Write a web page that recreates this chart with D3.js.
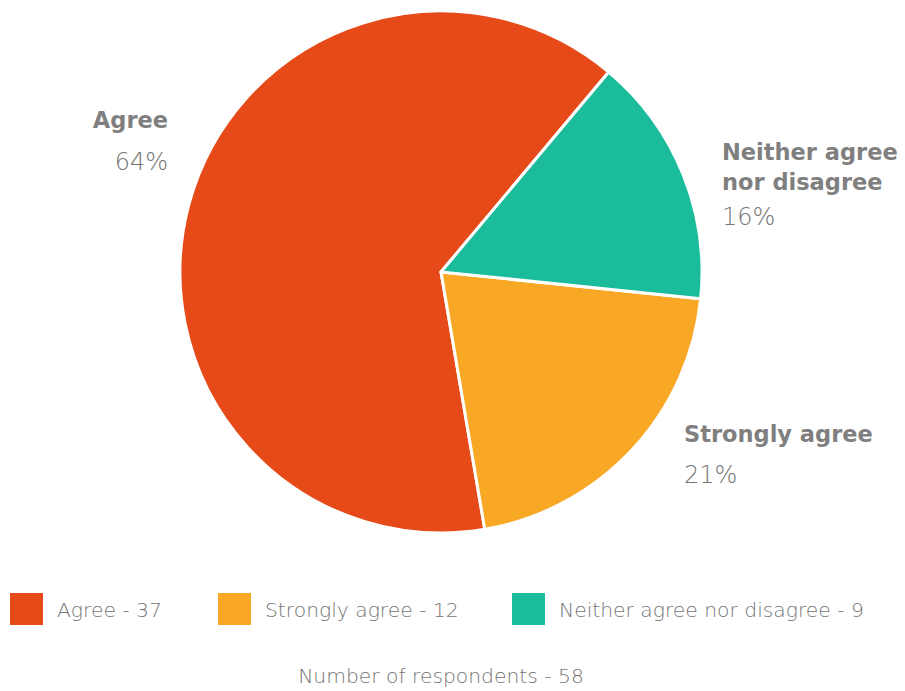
<!DOCTYPE html>
<html>
<head>
<meta charset="utf-8">
<script src="https://cdn.jsdelivr.net/npm/d3@7"></script>
<style>
  html, body { margin: 0; padding: 0; background: #fff; }
  svg { display: block; }
  text { font-family: "DejaVu Sans", sans-serif; fill: #7f7f7f; }
  text .light, text.light { fill: #747474; }
</style>
</head>
<body>
<svg id="chart" width="905" height="691"></svg>
<script>
// Survey responses
const categories = ["Agree", "Strongly agree", "Neither agree nor disagree"];
const labelLines = [["Agree"], ["Strongly agree"], ["Neither agree", "nor disagree"]];
const counts = [37, 12, 9];
const colors = ["#e64a19", "#f8a825", "#1abc9c"];
const totalLabel = "Number of respondents - ";

// Layout
const W = 905, H = 691;
const cx = 441, cy = 272, radius = 261;
const firstSliceStart = 40 * Math.PI / 180; // slices run counter-clockwise from here
// label blocks: anchor x, first baseline, gap before the percentage
const labelPlacement = [
  { x: 168, y: 128, anchor: "end", pctGap: 42 },
  { x: 684, y: 442, anchor: "start", pctGap: 41 },
  { x: 722, y: 160, anchor: "start", pctGap: 35 }
];
const legendX = [10, 218, 512];
const legendY = 593, swatchW = 33, swatchH = 32;

const svg = d3.select("#chart");
const total = d3.sum(counts);
const data = categories.map((c, i) => ({ name: c, value: counts[i], color: colors[i], lines: labelLines[i] }));

const pie = d3.pie()
  .sort(null)
  .value(d => d.value)
  .startAngle(firstSliceStart)
  .endAngle(firstSliceStart - 2 * Math.PI);

const arc = d3.arc().innerRadius(0).outerRadius(radius);

const g = svg.append("g").attr("transform", `translate(${cx},${cy})`);
g.selectAll("path")
  .data(pie(data))
  .join("path")
  .attr("d", arc)
  .attr("fill", d => d.data.color)
  .attr("stroke", "#fff")
  .attr("stroke-width", 3)
  .attr("stroke-linejoin", "round");

// Data labels: category in bold, then the share
const pct = d3.format(".0%");
data.forEach((d, i) => {
  const p = labelPlacement[i];
  const t = svg.append("text")
    .attr("x", p.x).attr("y", p.y)
    .attr("text-anchor", p.anchor);
  d.lines.forEach((line, j) => {
    t.append("tspan")
      .attr("x", p.x)
      .attr("dy", j === 0 ? 0 : 30)
      .attr("font-size", 22.5)
      .attr("font-weight", 700)
      .text(line);
  });
  t.append("tspan")
    .attr("class", "light")
    .attr("x", p.x)
    .attr("dy", p.pctGap)
    .attr("font-size", 24)
    .attr("font-weight", 200)
    .text(pct(d.value / total));
});

// Legend
const legend = svg.append("g");
data.forEach((d, i) => {
  const item = legend.append("g").attr("transform", `translate(${legendX[i]},${legendY})`);
  item.append("rect")
    .attr("width", swatchW).attr("height", swatchH)
    .attr("fill", d.color);
  item.append("text")
    .attr("class", "light")
    .attr("x", 47)
    .attr("y", 24)
    .attr("font-size", 20.3)
    .attr("font-weight", 200)
    .text(`${d.name} - ${d.value}`);
});

svg.append("text")
  .attr("class", "light")
  .attr("x", 441).attr("y", 683)
  .attr("text-anchor", "middle")
  .attr("font-size", 20.3)
  .attr("font-weight", 200)
  .text(totalLabel + total);
</script>
</body>
</html>
